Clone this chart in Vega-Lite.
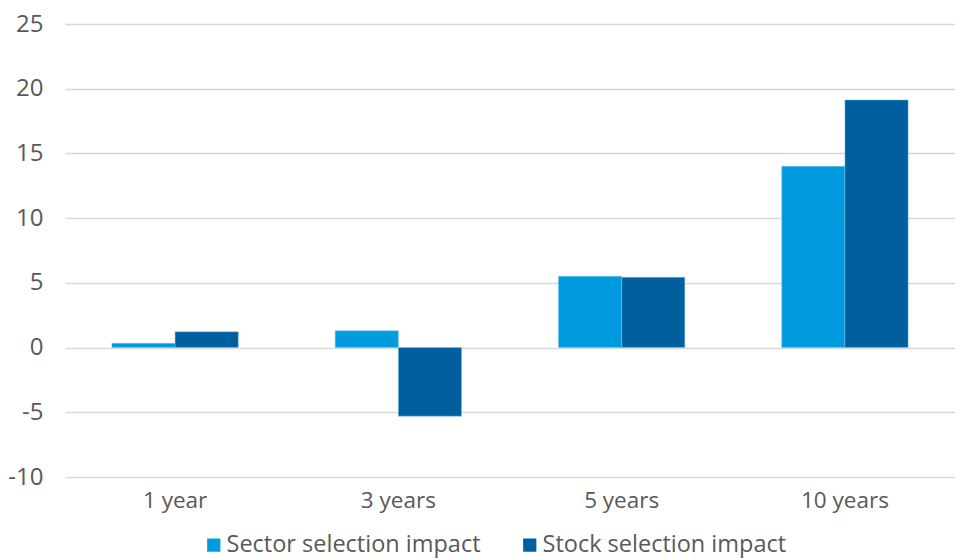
{
  "$schema": "https://vega.github.io/schema/vega-lite/v6.json",
  "width": 890,
  "height": 453,
  "autosize": {"type": "none"},
  "padding": {"left": 65, "top": 24, "right": 0, "bottom": 82},
  "background": "white",
  "data": {
    "values": [
      {"period": "1 year", "series": "Sector selection impact", "value": 0.33},
      {"period": "1 year", "series": "Stock selection impact", "value": 1.22},
      {"period": "3 years", "series": "Sector selection impact", "value": 1.3},
      {"period": "3 years", "series": "Stock selection impact", "value": -5.3},
      {"period": "5 years", "series": "Sector selection impact", "value": 5.51},
      {"period": "5 years", "series": "Stock selection impact", "value": 5.43},
      {"period": "10 years", "series": "Sector selection impact", "value": 14.0},
      {"period": "10 years", "series": "Stock selection impact", "value": 19.13}
    ]
  },
  "config": {
    "view": {"stroke": null},
    "font": "Open Sans"
  },
  "mark": {"type": "bar", "strokeWidth": 1, "strokeOpacity": 0.5, "stroke": "#7fc6ee"},
  "encoding": {
    "x": {
      "field": "period",
      "type": "nominal",
      "sort": ["1 year", "3 years", "5 years", "10 years"],
      "scale": {"paddingInner": 0.434, "paddingOuter": 0.21},
      "axis": {
        "title": null,
        "labelAngle": 0,
        "labelFontSize": 22.5,
        "labelColor": "#595959",
        "labelPadding": 12,
        "domain": false,
        "ticks": false,
        "grid": false
      }
    },
    "xOffset": {"field": "series", "type": "nominal", "sort": ["Sector selection impact", "Stock selection impact"], "scale": {"paddingInner": 0}},
    "y": {
      "field": "value",
      "type": "quantitative",
      "scale": {"domain": [-10, 25], "nice": false},
      "axis": {
        "title": null,
        "values": [-10, -5, 0, 5, 10, 15, 20, 25],
        "labelExpr": "'' + datum.value",
        "labelFontSize": 24,
        "labelColor": "#595959",
        "labelPadding": 22,
        "domain": false,
        "ticks": false,
        "gridColor": "#d9d9d9",
        "gridWidth": 1.5
      }
    },
    "color": {
      "field": "series",
      "type": "nominal",
      "sort": ["Sector selection impact", "Stock selection impact"],
      "scale": {"range": ["#009ADE", "#005F9F"]},
      "legend": {
        "title": null,
        "orient": "none",
        "direction": "horizontal",
        "legendX": 137,
        "legendY": 509,
        "symbolType": "square",
        "symbolSize": 175,
        "symbolStrokeWidth": 0,
        "labelFontSize": 23.5,
        "labelLimit": 0,
        "labelColor": "#595959",
        "labelOffset": 1,
        "columnPadding": 37
      }
    }
  }
}
